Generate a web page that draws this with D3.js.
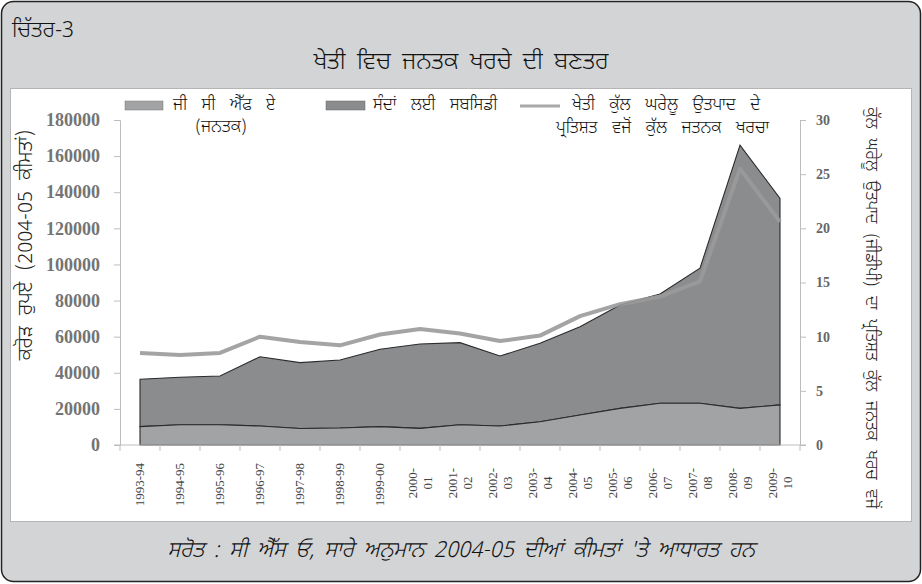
<!DOCTYPE html>
<html>
<head>
<meta charset="utf-8">
<script src="https://cdn.jsdelivr.net/npm/d3@7/dist/d3.min.js"></script>
<style>
  body { margin: 0; background: #fff; }
  svg text { font-family: "Noto Sans Gurmukhi", "Lohit Gurmukhi", "Noto Sans", sans-serif; }
  .num { font-family: "Liberation Serif", "DejaVu Serif", serif !important; }
  .pa { font-weight: 300; }
</style>
</head>
<body>
<div id="chart"></div>
<script>
// data
var years = ["1993-94", "1994-95", "1995-96", "1996-97", "1997-98", "1998-99", "1999-00",
    "2000-01", "2001-02", "2002-03", "2003-04", "2004-05", "2005-06", "2006-07",
    "2007-08", "2008-09", "2009-10"];
var gcf = [10200, 11200, 11200, 10500, 9100, 9400, 10200, 9200, 11200, 10500, 12900,
    16600, 20300, 23100, 23100, 20300, 22200];
var subsidy = [26200, 26300, 27000, 38400, 36500, 37700, 42800, 46700, 45500, 38800, 43400,
    48900, 57200, 60500, 74800, 145800, 114400];
var pctGdp = [8.5, 8.3, 8.5, 10.0, 9.5, 9.2, 10.2, 10.7, 10.3, 9.6, 10.1, 11.9, 13.0, 13.7,
    15.1, 25.5, 20.6];
var leftTicks = [0, 20000, 40000, 60000, 80000, 100000, 120000, 140000, 160000, 180000];
var rightTicks = [0, 5, 10, 15, 20, 25, 30];

var W = 922, H = 584;
var margin = {top: 120, right: 122, bottom: 139, left: 120};

var svg = d3.select("#chart").append("svg")
    .attr("width", W)
    .attr("height", H);

// outer frame + white panel
svg.append("rect")
    .attr("x", 1.5).attr("y", 1.5)
    .attr("width", W - 3).attr("height", H - 4)
    .attr("rx", 12).attr("ry", 12)
    .style("fill", "#d3d4d6")
    .style("stroke", "#222")
    .style("stroke-width", 1.5);

svg.append("rect")
    .attr("x", 10.5).attr("y", 88.5)
    .attr("width", 901).attr("height", 433)
    .style("fill", "#fff")
    .style("stroke", "#b5b5b5");

svg.append("text")
    .attr("class", "pa")
    .attr("x", 12).attr("y", 37)
    .style("font-size", "22px").style("fill", "#111")
    .text("ਚਿੱਤਰ-3");

svg.append("text")
    .attr("class", "pa")
    .attr("x", W / 2).attr("y", 69)
    .attr("text-anchor", "middle")
    .style("font-size", "24px").style("fill", "#111")
    .style("word-spacing", "5px")
    .text("ਖੇਤੀ ਵਿਚ ਜਨਤਕ ਖਰਚੇ ਦੀ ਬਣਤਰ");

svg.append("text")
    .attr("class", "pa")
    .attr("x", W / 2).attr("y", 557)
    .attr("text-anchor", "middle")
    .style("font-size", "22px").style("font-style", "italic").style("fill", "#111")
    .style("word-spacing", "4px")
    .text("ਸਰੋਤ : ਸੀ ਐੱਸ ਓ, ਸਾਰੇ ਅਨੁਮਾਨ 2004-05 ਦੀਆਂ ਕੀਮਤਾਂ 'ਤੇ ਆਧਾਰਤ ਹਨ");

// scales
var x = d3.scaleBand()
    .domain(years)
    .range([margin.left, W - margin.right]);
var cx = function(d) { return x(d) + x.bandwidth() / 2; };

var y = d3.scaleLinear()
    .domain([0, 180000])
    .range([H - margin.bottom, margin.top]);

var y2 = d3.scaleLinear()
    .domain([0, 30])
    .range([H - margin.bottom, margin.top]);

var rows = years.map(function(yr, i) {
    return {year: yr, gcf: gcf[i], subsidy: subsidy[i], pct: pctGdp[i]};
});

var stack = d3.stack().keys(["gcf", "subsidy"])(rows);

var area = d3.area()
    .x(function(d) { return cx(d.data.year); })
    .y0(function(d) { return y(d[0]); })
    .y1(function(d) { return y(d[1]); });

var fills = ["#a2a3a5", "#8b8c8e"];

svg.selectAll("path.layer")
    .data(stack.slice().reverse())
    .enter().append("path")
    .attr("class", "layer")
    .attr("d", area)
    .style("fill", function(d) { return fills[d.index]; })
    .style("stroke", "#2b2b2b")
    .style("stroke-width", 1.1);

var line = d3.line()
    .x(function(d) { return cx(d.year); })
    .y(function(d) { return y2(d.pct); });

svg.append("path")
    .datum(rows)
    .attr("d", line)
    .style("fill", "none")
    .style("stroke", "#9a9a9a")
    .style("stroke-opacity", 0.9)
    .style("stroke-width", 4)
    .style("stroke-linejoin", "round");

// axes
var axisColor = "#bdbdbd";

var gLeft = svg.append("g")
    .attr("transform", "translate(" + margin.left + ",0)")
    .call(d3.axisLeft(y).tickValues(leftTicks).tickSize(6).tickPadding(14).tickFormat(d3.format("d")));
gLeft.select(".domain").attr("stroke", axisColor);
gLeft.selectAll(".tick line").attr("stroke", axisColor);
gLeft.selectAll("text").attr("class", "num")
    .style("font-size", "18px").style("font-weight", "bold").style("fill", "#747474");

var gRight = svg.append("g")
    .attr("transform", "translate(" + (W - margin.right) + ",0)")
    .call(d3.axisRight(y2).tickValues(rightTicks).tickSize(6).tickPadding(10));
gRight.select(".domain").attr("stroke", axisColor);
gRight.selectAll(".tick line").attr("stroke", axisColor);
gRight.selectAll("text").attr("class", "num")
    .style("font-size", "14px").style("font-weight", "bold").style("fill", "#666");

// x axis: ticks between categories
var gBottom = svg.append("g")
    .attr("transform", "translate(0," + (H - margin.bottom) + ")");
gBottom.append("line")
    .attr("x1", margin.left - 6).attr("x2", W - margin.right + 6)
    .attr("stroke", axisColor);
gBottom.selectAll("line.tk")
    .data(years.concat(["end"]))
    .enter().append("line")
    .attr("class", "tk")
    .attr("x1", function(d, i) { return margin.left + i * x.step(); })
    .attr("x2", function(d, i) { return margin.left + i * x.step(); })
    .attr("y1", 0).attr("y2", 6)
    .attr("stroke", axisColor);

var labels = gBottom.selectAll("g.xl")
    .data(years)
    .enter().append("g")
    .attr("class", "xl")
    .attr("transform", function(d) { return "translate(" + cx(d) + ",0)"; });

labels.each(function(d, i) {
    var g = d3.select(this);
    if (i < 7) {
        g.append("text").attr("class", "num")
            .attr("transform", "translate(4,18) rotate(-90)")
            .attr("text-anchor", "end")
            .style("font-size", "13px").style("fill", "#444")
            .text(d);
    } else {
        var parts = [d.slice(0, 5), d.slice(5)];
        g.selectAll("text").data(parts).enter().append("text")
            .attr("class", "num")
            .attr("transform", function(p, j) {
                return "translate(" + (j === 0 ? -3 : 12) + ",38) rotate(-90)";
            })
            .attr("text-anchor", "middle")
            .style("font-size", "13px").style("fill", "#444")
            .text(function(p) { return p; });
    }
});

// axis titles
svg.append("text")
    .attr("class", "pa")
    .attr("transform", "translate(32,245) rotate(-90)")
    .attr("text-anchor", "middle")
    .style("font-size", "20px").style("fill", "#222")
    .style("word-spacing", "6px")
    .text("ਕਰੋੜ ਰੁਪਏ (2004-05 ਕੀਮਤਾਂ)");

svg.append("text")
    .attr("class", "pa")
    .attr("transform", "translate(866,308) rotate(90)")
    .attr("text-anchor", "middle")
    .style("font-size", "17px").style("fill", "#222")
    .style("word-spacing", "5px")
    .text("ਕੁੱਲ ਘਰੇਲੂ ਉਤਪਾਦ (ਜੀਡੀਪੀ) ਦਾ ਪ੍ਰਤਿਸ਼ਤ ਕੁੱਲ ਜਨਤਕ ਖਰਚ ਵਜੋਂ");

// legend
var legend = svg.append("g").attr("class", "pa")
    .style("font-size", "17px").style("fill", "#111")
    .style("word-spacing", "10px");

legend.append("rect")
    .attr("x", 125).attr("y", 101).attr("width", 38).attr("height", 9)
    .style("fill", fills[0]).style("stroke", "#777").style("stroke-width", 0.5);
legend.append("text").attr("x", 173).attr("y", 110).text("ਜੀ ਸੀ ਐੱਫ ਏ");
legend.append("text").attr("x", 221).attr("y", 132).attr("text-anchor", "middle").text("(ਜਨਤਕ)");

legend.append("rect")
    .attr("x", 326).attr("y", 101).attr("width", 39).attr("height", 9)
    .style("fill", fills[1]).style("stroke", "#666").style("stroke-width", 0.5);
legend.append("text").attr("x", 373).attr("y", 110).text("ਸੰਦਾਂ ਲਈ ਸਬਸਿਡੀ");

legend.append("line")
    .attr("x1", 520).attr("x2", 560).attr("y1", 106).attr("y2", 106)
    .style("stroke", "#a8a8a8").style("stroke-width", 3);
legend.append("text").attr("x", 572).attr("y", 110).text("ਖੇਤੀ ਕੁੱਲ ਘਰੇਲੂ ਉਤਪਾਦ ਦੇ");
legend.append("text").attr("x", 556).attr("y", 133).text("ਪ੍ਰਤਿਸ਼ਤ ਵਜੋਂ ਕੁੱਲ ਜਤਨਕ ਖਰਚਾ");
</script>
</body>
</html>
